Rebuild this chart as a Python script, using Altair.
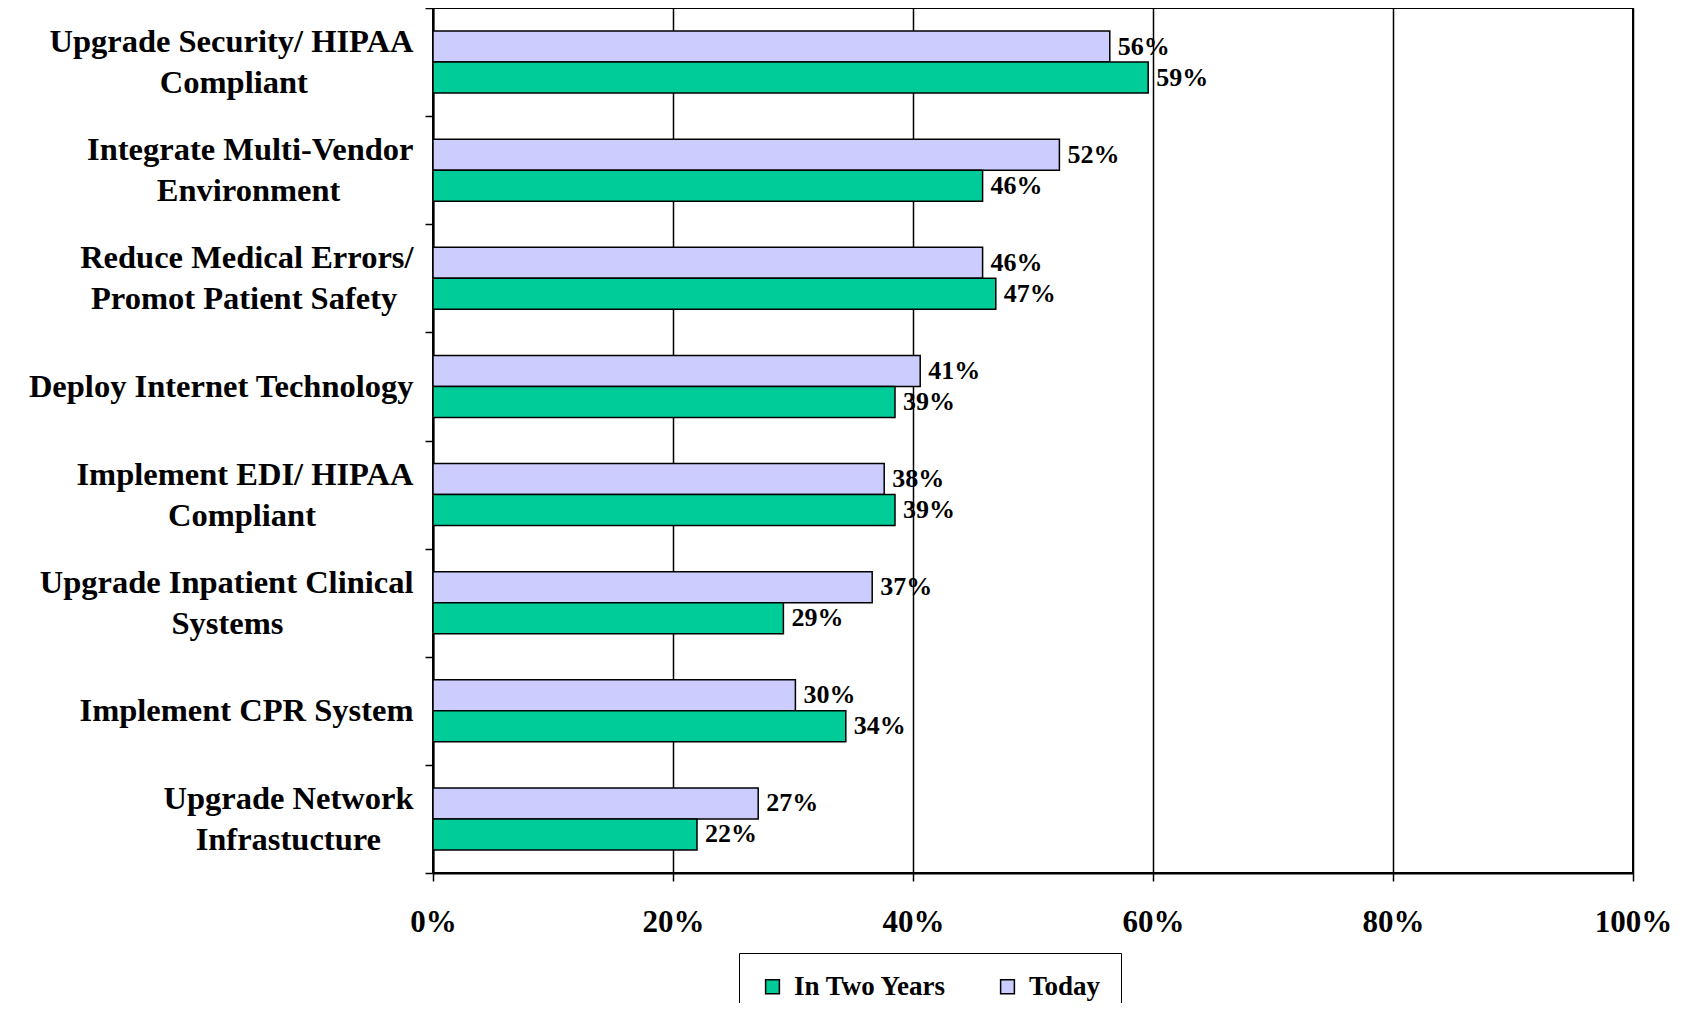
import altair as alt
import pandas as pd

categories = [
    "Upgrade Security/ HIPAA|Compliant",
    "Integrate Multi-Vendor|Environment",
    "Reduce Medical Errors/|Promot Patient Safety",
    "Deploy Internet Technology",
    "Implement EDI/ HIPAA|Compliant",
    "Upgrade Inpatient Clinical|Systems",
    "Implement CPR System",
    "Upgrade Network|Infrastucture",
]
# bar lengths (percent)
today = [56.4, 52.2, 45.8, 40.6, 37.6, 36.6, 30.2, 27.1]
in_two_years = [59.6, 45.8, 46.9, 38.5, 38.5, 29.2, 34.4, 22.0]
# printed value labels
today_labels = ["56%", "52%", "46%", "41%", "38%", "37%", "30%", "27%"]
in_two_years_labels = ["59%", "46%", "47%", "39%", "39%", "29%", "34%", "22%"]
series_names = ["In Two Years", "Today"]
x_ticks = [0, 20, 40, 60, 80, 100]

# Times/Liberation Serif Bold advance widths (per 1000 em) used to centre
# the lines of a multi-line label inside a right-aligned block.
W = {' ': 250, '/': 278, '-': 333, 'A': 722, 'C': 722, 'D': 722, 'E': 667, 'F': 611,
     'H': 778, 'I': 389, 'M': 944, 'N': 722, 'P': 611, 'R': 722, 'S': 556, 'T': 667,
     'U': 722, 'V': 722, 'a': 500, 'b': 556, 'c': 444, 'd': 556, 'e': 444, 'f': 333,
     'g': 500, 'h': 556, 'i': 278, 'k': 556, 'l': 278, 'm': 833, 'n': 556, 'o': 500,
     'p': 556, 'r': 444, 's': 389, 't': 333, 'u': 556, 'v': 500, 'w': 722, 'y': 500}


def tw(s):
    return sum(W.get(c, 500) for c in s)


def centre_block(label):
    lines = label.split("|")
    if len(lines) == 1:
        return label
    mw = max(tw(l) for l in lines)
    out = []
    for l in lines:
        n = int(round((mw - tw(l)) / 2 / 250))
        # trailing no-break spaces, protected from trim() by a zero-width space
        out.append(l + ("\u00a0" * n + "\u200b" if n > 0 else ""))
    return "|".join(out)


cats = [centre_block(c) for c in categories]

rows = []
for c, t, f, tl, fl in zip(cats, today, in_two_years, today_labels, in_two_years_labels):
    rows.append({"category": c, "series": "Today", "value": t, "label": tl})
    rows.append({"category": c, "series": "In Two Years", "value": f, "label": fl})
df = pd.DataFrame(rows)

FONT = "Liberation Serif"
LINE_H = 41

y_enc = alt.Y(
    "category:N",
    sort=cats,
    scale=alt.Scale(paddingInner=0, paddingOuter=0),
    axis=alt.Axis(
        title=None,
        labelExpr="split(datum.label, '|')",
        labelOffset=alt.condition(
            "indexof(datum.label, '|') >= 0", alt.value(-LINE_H / 2), alt.value(0)
        ),
        tickBand="extent",
        tickSize=8,
        tickColor="black",
        tickWidth=1.5,
        domainColor="black",
        domainWidth=2,
        labelFont=FONT,
        labelFontWeight="bold",
        labelFontSize=32.5,
        labelLineHeight=LINE_H,
        labelColor="black",
        labelPadding=12,
        labelLimit=600,
        grid=False,
    ),
)
yoff_enc = alt.YOffset(
    "series:N",
    sort=["Today", "In Two Years"],
    scale=alt.Scale(paddingInner=0, paddingOuter=0.742),
)
x_enc = alt.X(
    "value:Q",
    scale=alt.Scale(domain=[0, 100]),
    axis=alt.Axis(
        title=None,
        values=x_ticks,
        labelExpr="datum.value + '%'",
        grid=True,
        gridColor="black",
        gridWidth=1.5,
        tickColor="black",
        tickWidth=1.5,
        tickSize=8,
        domainColor="black",
        domainWidth=2,
        labelFont=FONT,
        labelFontWeight="bold",
        labelFontSize=31,
        labelColor="black",
        labelPadding=26,
        labelFlush=False,
    ),
)

base = alt.Chart(df)

bars = base.mark_bar(stroke="black", strokeWidth=1.5).encode(
    x=x_enc,
    y=y_enc,
    yOffset=yoff_enc,
    color=alt.Color(
        "series:N",
        scale=alt.Scale(domain=series_names, range=["#00CC99", "#CCCCFF"]),
        legend=alt.Legend(
            title=None,
            orient="none",
            legendX=306,
            legendY=945,
            direction="horizontal",
            strokeColor="black",
            padding=20,
            columnPadding=47,
            symbolType="square",
            symbolSize=190,
            symbolStrokeColor="black",
            symbolStrokeWidth=1.5,
            labelFont=FONT,
            labelFontWeight="bold",
            labelFontSize=27,
            labelColor="black",
            labelOffset=8,
            labelLimit=400,
        ),
    ),
)

texts = base.mark_text(
    align="left", baseline="middle", dx=8, font=FONT, fontWeight="bold",
    fontSize=26, color="black"
).encode(
    x=alt.X("value:Q"),
    y=alt.Y("category:N", sort=cats),
    yOffset=alt.YOffset("series:N", sort=["Today", "In Two Years"]),
    text="label:N",
)

chart = alt.layer(bars, texts).properties(
    width=1200,
    height=865,
    padding={"left": 425, "top": 0, "right": 45, "bottom": 130},
    autosize=alt.AutoSizeParams(type="none"),
    background="white",
).configure_view(stroke="black", strokeWidth=2)

chart.save("out.html", embed_options={"renderer": "svg", "actions": False})
